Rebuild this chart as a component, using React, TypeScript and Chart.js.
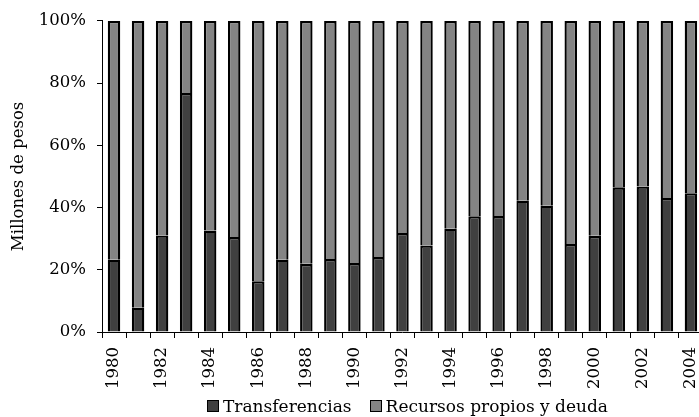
import React, { useEffect, useRef } from "react";
import { Chart, registerables } from "chart.js";

Chart.register(...registerables);

const years = [
  "1980", "1981", "1982", "1983", "1984", "1985", "1986", "1987", "1988", "1989",
  "1990", "1991", "1992", "1993", "1994", "1995", "1996", "1997", "1998", "1999",
  "2000", "2001", "2002", "2003", "2004",
];

const transferencias = [
  23.2, 7.8, 31.0, 76.8, 32.6, 30.5, 16.3, 23.2, 21.9, 23.5,
  22.2, 24.1, 31.8, 27.8, 33.2, 37.2, 37.3, 42.2, 40.6, 28.3,
  30.9, 46.5, 46.8, 43.1, 44.6,
];

const recursos = [
  76.8, 92.2, 69.0, 23.2, 67.4, 69.5, 83.7, 76.8, 78.1, 76.5,
  77.8, 75.9, 68.2, 72.2, 66.8, 62.8, 62.7, 57.8, 59.4, 71.7,
  69.1, 53.5, 53.2, 56.9, 55.4,
];

const yTickLabels = ["0%", "20%", "40%", "60%", "80%", "100%"];
const seriesNames = ["Transferencias", "Recursos propios y deuda"];
const yTitle = "Millones de pesos";

const DARK = "#404040";
const GRAY = "#848484";
const FONT = "DejaVu Serif";

export default function App() {
  const canvasRef = useRef<HTMLCanvasElement | null>(null);

  useEffect(() => {
    const canvas = canvasRef.current;
    if (!canvas) return;

    const chart = new Chart(canvas, {
      type: "bar",
      data: {
        labels: years,
        datasets: [
          {
            label: seriesNames[0],
            data: transferencias,
            backgroundColor: DARK,
            borderColor: "#000",
            borderWidth: 2.3,
            barPercentage: 0.52,
            categoryPercentage: 1,
            stack: "s",
          },
          {
            label: seriesNames[1],
            data: recursos,
            backgroundColor: GRAY,
            borderColor: "#000",
            borderWidth: 2.3,
            barPercentage: 0.52,
            categoryPercentage: 1,
            stack: "s",
          },
        ],
      },
      options: {
        animation: false,
        responsive: false,
        devicePixelRatio: 1,
        layout: { padding: { top: 20, right: 13.5, left: 0, bottom: 0 } },
        plugins: {
          legend: { display: false },
          tooltip: { enabled: false },
          title: { display: false },
        },
        scales: {
          x: {
            stacked: true,
            offset: true,
            grid: {
              display: true,
              drawOnChartArea: false,
              drawTicks: true,
              tickLength: 6,
              color: "#000",
              offset: true,
            },
            border: { display: true, color: "#000", width: 1 },
            ticks: {
              autoSkip: false,
              maxRotation: 90,
              minRotation: 90,
              padding: 9,
              color: "#000",
              font: { family: FONT, size: 16.5 },
              callback: (_v: any, i: number) => (i % 2 === 0 ? years[i] : ""),
            },
            afterFit: (scale: any) => {
              scale.height = 85;
            },
          },
          y: {
            stacked: true,
            min: 0,
            max: 100,
            title: {
              display: true,
              text: yTitle,
              color: "#000",
              font: { family: FONT, size: 16.5 },
              padding: { top: 8.4, bottom: 0 },
            },
            grid: {
              display: true,
              drawOnChartArea: false,
              drawTicks: true,
              tickLength: 5,
              color: "#000",
            },
            border: { display: true, color: "#000", width: 1 },
            ticks: {
              stepSize: 20,
              padding: 11,
              color: "#000",
              font: { family: FONT, size: 16.5 },
              callback: (v: any) => yTickLabels[Math.round(Number(v) / 20)],
            },
            afterFit: (scale: any) => {
              scale.width = 102;
            },
          },
        },
      },
    });

    return () => chart.destroy();
  }, []);

  const legendBox = (bg: string): React.CSSProperties => ({
    display: "inline-block",
    width: 10,
    height: 10,
    border: "1px solid #000",
    background: bg,
    marginRight: 4,
  });

  return (
    <div
      style={{
        position: "fixed",
        left: 0,
        top: 0,
        width: 699,
        height: 417,
        overflow: "hidden",
        background: "#fff",
      }}
    >
      <canvas ref={canvasRef} width={720} height={417} style={{ display: "block" }} />
      <div
        style={{
          position: "absolute",
          left: 207,
          top: 396,
          display: "flex",
          alignItems: "center",
          fontFamily: "'DejaVu Serif'",
          fontSize: 17,
          lineHeight: "20px",
          color: "#000",
          whiteSpace: "nowrap",
        }}
      >
        <span style={legendBox(DARK)} />
        <span style={{ marginRight: 18 }}>{seriesNames[0]}</span>
        <span style={legendBox(GRAY)} />
        <span>{seriesNames[1]}</span>
      </div>
    </div>
  );
}
